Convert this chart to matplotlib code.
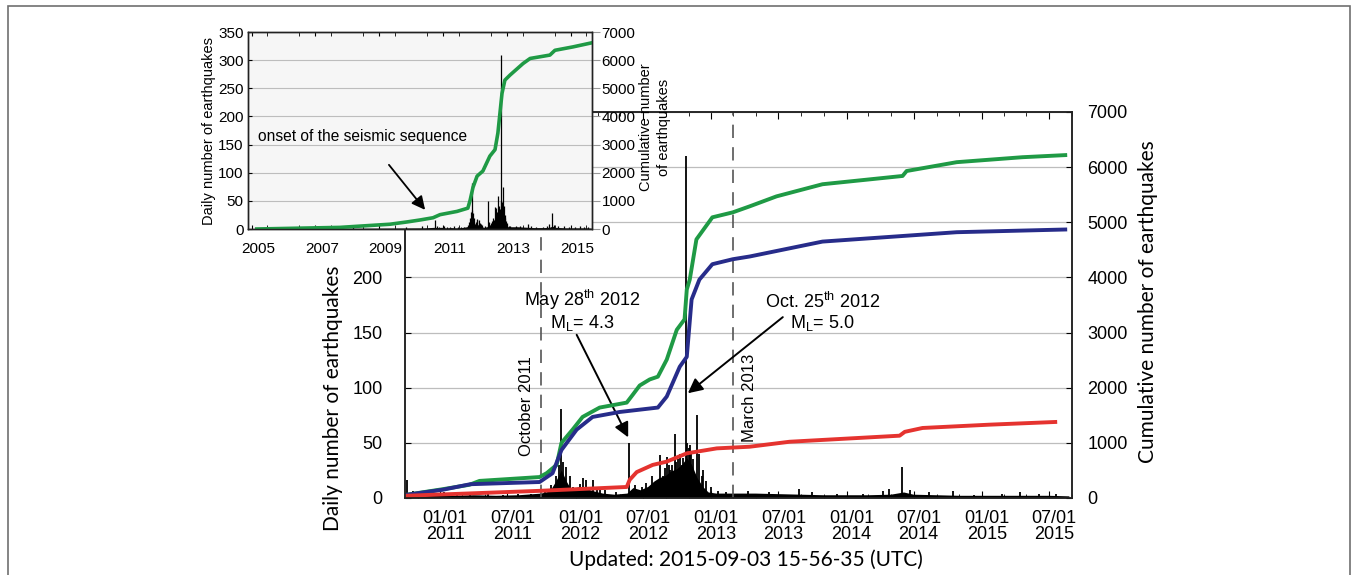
import matplotlib
matplotlib.use('Agg')
import matplotlib.pyplot as plt
import matplotlib.dates as mdates
import pandas as pd
from matplotlib.transforms import ScaledTranslation
from matplotlib.patches import Rectangle

plt.rcParams['font.family'] = ['Liberation Sans', 'DejaVu Sans']
plt.rcParams['mathtext.fontset'] = 'custom'
plt.rcParams['mathtext.rm'] = 'Liberation Sans'

# ---- data ----
# daily counts: smooth background level
bg_dates = ['2005-01-01', '2007-01-01', '2009-01-01', '2010-06-01', '2010-09-28', '2010-11-01',
            '2010-12-15', '2011-02-01', '2011-04-01', '2011-06-01', '2011-08-01', '2011-10-01',
            '2011-10-25', '2011-11-10', '2011-11-25', '2011-12-08', '2011-12-20', '2012-01-15',
            '2012-02-01', '2012-02-20', '2012-03-15', '2012-04-15', '2012-05-20', '2012-06-05',
            '2012-06-25', '2012-07-15', '2012-08-01', '2012-08-15', '2012-09-01', '2012-09-15',
            '2012-10-01', '2012-10-15', '2012-10-28', '2012-11-10', '2012-11-25', '2012-12-10',
            '2012-12-25', '2013-01-15', '2013-03-01', '2013-05-01', '2013-07-01', '2013-09-01',
            '2013-11-01', '2014-01-01', '2014-03-01', '2014-05-01', '2014-06-05', '2014-07-01',
            '2014-09-01', '2014-11-01', '2015-01-01', '2015-03-01', '2015-05-01', '2015-07-01',
            '2015-08-25']
bg_counts = [1, 1, 1.5, 2, 3, 2.5,
             3, 2, 2.5, 2, 2.5, 4,
             6, 15, 25, 15, 8, 10,
             8, 6, 4, 3, 4, 9,
             7, 10, 15, 18, 20, 24,
             26, 30, 36, 30, 18, 10,
             5, 4, 4, 4, 3.5, 3,
             2.5, 2.5, 2.5, 3, 5, 3,
             2.5, 2, 2, 2, 2, 2,
             1.5]

# daily counts: individual spikes
spike_dates = ['2008-03-01', '2009-11-01', '2010-05-01', '2010-10-03', '2010-10-20', '2010-11-18',
               '2011-01-10', '2011-02-14', '2011-03-23', '2011-05-10', '2011-06-20', '2011-07-30',
               '2011-09-02', '2011-10-10', '2011-10-28', '2011-11-10', '2011-11-17', '2011-11-24',
               '2011-11-28', '2011-12-07', '2011-12-16', '2011-12-25', '2012-01-12', '2012-01-21',
               '2012-01-30', '2012-02-17', '2012-02-27', '2012-03-07', '2012-03-20', '2012-04-20',
               '2012-05-25', '2012-06-10', '2012-06-28', '2012-07-10', '2012-07-24', '2012-08-16',
               '2012-08-25', '2012-08-30', '2012-09-03', '2012-09-08', '2012-09-12', '2012-09-16',
               '2012-09-25', '2012-09-29', '2012-10-04', '2012-10-08', '2012-10-13', '2012-10-18',
               '2012-10-25', '2012-10-28', '2012-11-01', '2012-11-05', '2012-11-08', '2012-11-14',
               '2012-11-23', '2012-11-30', '2012-12-07', '2012-12-10', '2012-12-18', '2012-12-31',
               '2013-01-20', '2013-02-10', '2013-04-10', '2013-06-05', '2013-08-25', '2013-09-30',
               '2013-12-05', '2014-02-15', '2014-04-10', '2014-04-25', '2014-05-31', '2014-06-20',
               '2014-08-10', '2014-10-15', '2014-12-10', '2015-02-25', '2015-04-15', '2015-06-05',
               '2015-07-20']
spike_counts = [3, 4, 5, 16, 6, 4,
                5, 4, 4, 5, 3, 4,
                4, 7, 12, 20, 30, 81,
                33, 28, 20, 10, 13, 18,
                16, 16, 10, 9, 7, 5,
                50, 12, 10, 14, 20, 39,
                20, 27, 37, 30, 25, 30,
                58, 33, 35, 40, 30, 36,
                310, 50, 45, 48, 40, 35,
                75, 40, 20, 25, 15, 10,
                6, 5, 6, 5, 8, 5,
                4, 4, 6, 8, 28, 7,
                5, 6, 3, 4, 5, 4,
                4]

# cumulative curves of the main panel
total_dates = ['2010-09-29', '2011-01-08', '2011-03-21', '2011-04-17', '2011-09-26', '2011-10-15',
               '2011-11-11', '2011-11-24', '2011-12-24', '2012-01-20', '2012-03-06', '2012-05-18',
               '2012-06-03', '2012-06-22', '2012-07-19', '2012-08-10', '2012-09-03', '2012-09-30',
               '2012-10-21', '2012-10-27', '2012-11-04', '2012-11-22', '2013-01-04', '2013-02-28',
               '2013-04-15', '2013-06-26', '2013-10-28', '2014-06-01', '2014-06-12', '2014-10-25',
               '2015-04-20', '2015-08-19']
total_cum = [55, 160, 240, 310, 380, 450,
             600, 1000, 1240, 1470, 1640, 1730,
             1870, 2040, 2150, 2200, 2510, 3050,
             3240, 3780, 3960, 4690, 5090, 5180,
             5290, 5470, 5690, 5840, 5930, 6090,
             6180, 6220]

blue_dates = ['2010-09-29', '2011-01-08', '2011-03-23', '2011-09-26', '2011-10-31', '2011-11-24',
              '2012-01-04', '2012-02-16', '2012-04-29', '2012-08-10', '2012-09-03', '2012-10-08',
              '2012-10-27', '2012-11-09', '2012-11-30', '2013-01-04', '2013-02-28', '2013-04-15',
              '2013-10-28', '2014-10-25', '2015-08-19']
blue_cum = [55, 150, 250, 290, 450, 870,
            1240, 1470, 1560, 1640, 1840, 2380,
            2560, 3600, 3960, 4240, 4330, 4380,
            4650, 4820, 4870]

red_dates = ['2010-09-29', '2011-09-26', '2012-05-18', '2012-05-26', '2012-06-14', '2012-07-27',
             '2012-09-03', '2012-10-27', '2013-01-16', '2013-04-15', '2013-07-31', '2014-05-24',
             '2014-06-07', '2014-07-25', '2015-01-22', '2015-07-23']
red_cum = [40, 130, 200, 330, 470, 600,
           660, 810, 900, 930, 1020, 1130,
           1200, 1270, 1330, 1380]

# cumulative curve of the inset
inset_dates = ['2005-03-01', '2007-10-08', '2009-05-05', '2009-11-13', '2010-04-12', '2010-09-09',
               '2010-11-28', '2011-06-10', '2011-10-12', '2011-11-07', '2011-12-10', '2012-01-26',
               '2012-04-01', '2012-06-20', '2012-08-18', '2012-09-20', '2012-11-06', '2012-12-09',
               '2013-02-06', '2013-07-05', '2013-09-24', '2014-05-08', '2014-07-05', '2015-01-26',
               '2015-08-22']
inset_cum = [0, 57, 170, 250, 320, 400,
             510, 625, 740, 1020, 1480, 1880,
             2060, 2590, 2820, 3410, 4820, 5290,
             5470, 5880, 6060, 6180, 6350, 6470,
             6610]

event_lines = ['2011-10-01', '2013-03-01']
event_labels = ['October 2011', 'March 2013']

xtick_dates = ['2011-01-01', '2011-07-01', '2012-01-01', '2012-07-01', '2013-01-01',
               '2013-07-01', '2014-01-01', '2014-07-01', '2015-01-01', '2015-07-01']
xtick_labels = ['01/01\n2011', '07/01\n2011', '01/01\n2012', '07/01\n2012', '01/01\n2013',
                '07/01\n2013', '01/01\n2014', '07/01\n2014', '01/01\n2015', '07/01\n2015']
inset_years = ['2005-01-01', '2007-01-01', '2009-01-01', '2011-01-01', '2013-01-01', '2015-01-01']
inset_year_labels = ['2005', '2007', '2009', '2011', '2013', '2015']

GREEN = '#1f9a45'
BLUE = '#272c8a'
RED = '#e5332f'
T = pd.to_datetime

W, H = 1356, 575
def box(l, t, r, b):
    return [l / W, 1 - b / H, (r - l) / W, (b - t) / H]

fig = plt.figure(figsize=(W / 100, H / 100), dpi=100)

# ---- main panel ----
ax = fig.add_axes(box(405, 112, 1072, 498))
ax2 = ax.twinx()

ax.fill_between(T(bg_dates), bg_counts, color='black', lw=0)
ax.vlines(T(spike_dates), 0, spike_counts, color='black', lw=1.3)
for dt in event_lines:
    ax.axvline(T(dt), color='#555555', lw=1.2, ls=(0, (8, 5.5)))

ax2.plot(T(total_dates), total_cum, color=GREEN, lw=2.8, solid_capstyle='butt')
ax2.plot(T(blue_dates), blue_cum, color=BLUE, lw=2.8, solid_capstyle='butt')
ax2.plot(T(red_dates), red_cum, color=RED, lw=2.8, solid_capstyle='butt')

ax.set_xlim(T('2010-09-28'), T('2015-09-01'))
ax.set_ylim(0, 350)
ax2.set_ylim(0, 7000)
ax.set_yticks(range(0, 351, 50))
ax.set_yticklabels(['0', '50', '100', '150', '200', '', '', ''])
ax2.set_yticks(range(0, 7001, 1000))
ax.yaxis.grid(True, color='#bdbdbd', lw=0.9)
ax.set_axisbelow(True)

ax.set_xticks(T(xtick_dates))
ax.set_xticklabels(xtick_labels, linespacing=0.95)
ax.xaxis.set_minor_locator(mdates.MonthLocator(bymonth=(3, 5, 9, 11)))
ax.tick_params(axis='x', which='both', direction='in', top=True, labelsize=13, pad=8.5)
ax.tick_params(axis='x', which='major', length=5)
ax.tick_params(axis='x', which='minor', length=3)
ax.tick_params(axis='y', direction='in', labelsize=13, pad=16, length=4)
ax2.tick_params(axis='y', direction='in', labelsize=13, pad=11, length=4)
for a in (ax, ax2):
    for s in a.spines.values():
        s.set_linewidth(1.1)
        s.set_color('#222222')
for lbl in ax.get_xticklabels():
    lbl.set_transform(lbl.get_transform() + ScaledTranslation(0.05, 0, fig.dpi_scale_trans))

ax.text(T('2011-08-22'), 83, event_labels[0], rotation=90, ha='center', va='center', fontsize=12)
ax.text(T('2013-04-15'), 91, event_labels[1], rotation=90, ha='center', va='center', fontsize=12)

arrow = dict(arrowstyle='-|>', mutation_scale=22, lw=1.4, color='black', shrinkA=0, shrinkB=0)
ax.text(T('2012-01-20'), 180, 'May 28$^{\\rm th}$ 2012', ha='center', va='center', fontsize=13)
ax.text(T('2012-01-18'), 159, 'M$_{\\rm L}$= 4.3', ha='center', va='center', fontsize=13)
ax.annotate('', xy=(T('2012-05-22'), 55), xytext=(T('2012-01-04'), 148), arrowprops=arrow)
ax.text(T('2013-10-29'), 178, 'Oct. 25$^{\\rm th}$ 2012', ha='center', va='center', fontsize=13)
ax.text(T('2013-10-27'), 159, 'M$_{\\rm L}$= 5.0', ha='center', va='center', fontsize=13)
ax.annotate('', xy=(T('2012-10-30'), 95), xytext=(T('2013-07-13'), 164), arrowprops=arrow)

fig.text(333 / W, 1 - 398 / H, 'Daily number of earthquakes', rotation=90, ha='center', va='center',
         fontsize=15, family=['Lato', 'DejaVu Sans'])
fig.text(1148 / W, 1 - 302 / H, 'Cumulative number of earthquakes', rotation=90, ha='center',
         va='center', fontsize=15, family=['Lato', 'DejaVu Sans'])
fig.text(746 / W, 1 - 560 / H, 'Updated: 2015-09-03 15-56-35 (UTC)', ha='center', va='center',
         fontsize=15, family=['Lato', 'DejaVu Sans'])

# ---- inset ----
ins = fig.add_axes(box(248, 32, 592, 229))
ins.set_zorder(5)
ins.set_facecolor('#f6f6f6')
ins2 = ins.twinx()
ins2.set_zorder(6)

ins.fill_between(T(bg_dates), bg_counts, color='black', lw=0)
ins.vlines(T(spike_dates), 0, spike_counts, color='black', lw=0.9)
ins2.plot(T(inset_dates), inset_cum, color=GREEN, lw=2.6)

ins.set_xlim(T('2004-11-21'), T('2015-09-02'))
ins.set_ylim(0, 350)
ins2.set_ylim(0, 7000)
ins.set_yticks(range(0, 351, 50))
ins2.set_yticks(range(0, 7001, 1000))
ins.yaxis.grid(True, color='#bdbdbd', lw=0.8)
ins.set_axisbelow(True)
ins.set_xticks(T(inset_years))
ins.set_xticklabels(inset_year_labels)
ins.xaxis.set_minor_locator(mdates.MonthLocator(bymonth=(7,)))
ins.tick_params(axis='x', which='both', direction='in', top=True, labelsize=11, pad=9, length=3)
ins.tick_params(axis='y', direction='in', labelsize=11, pad=3, length=3)
ins2.tick_params(axis='y', direction='out', labelsize=11, pad=1, length=6, color='#999999')
for a in (ins, ins2):
    for s in a.spines.values():
        s.set_linewidth(1.0)
        s.set_color('#222222')
for lbl in ins.get_xticklabels():
    lbl.set_transform(lbl.get_transform() + ScaledTranslation(0.065, 0, fig.dpi_scale_trans))

ins.text(T('2005-03-14'), 165, 'onset of the seismic sequence', ha='left', va='center', fontsize=11.2)
ins.annotate('', xy=(T('2010-06-10'), 34), xytext=(T('2009-04-22'), 114),
             arrowprops=dict(arrowstyle='-|>', mutation_scale=20, lw=1.3, color='black',
                             shrinkA=0, shrinkB=0))

fig.text(209 / W, 1 - 131 / H, 'Daily number of earthquakes', rotation=90, ha='center', va='center',
         fontsize=10.5)
fig.text(655 / W, 1 - 127 / H, 'Cumulative number\nof earthquakes', rotation=90, ha='center',
         va='center', fontsize=10.5, linespacing=1.3)

# frame around the whole figure
fig.add_artist(Rectangle((8 / W, -0.05), (1350 - 8) / W, 1.05 - 6 / H, transform=fig.transFigure,
                         fill=False, edgecolor='#707070', lw=1.2))

fig.savefig('out.png', dpi=100)
